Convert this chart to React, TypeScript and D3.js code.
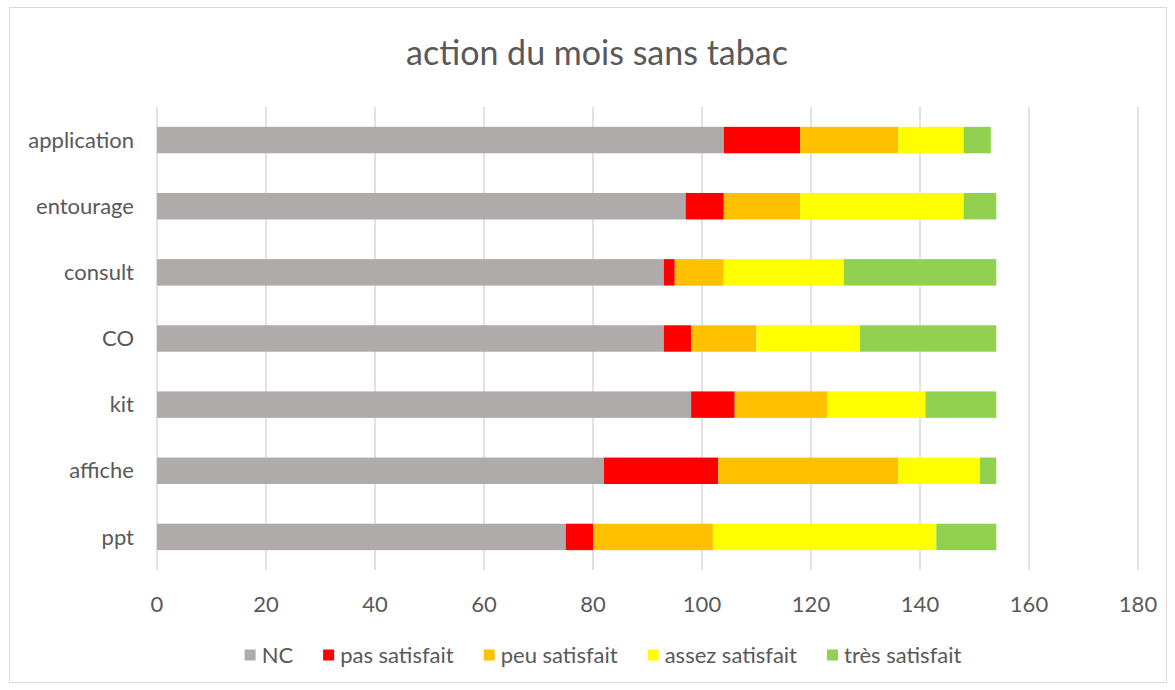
import React, { useRef, useEffect } from "react";
import * as d3 from "d3";

const categories = ["application", "entourage", "consult", "CO", "kit", "affiche", "ppt"];
const seriesNames = ["NC", "pas satisfait", "peu satisfait", "assez satisfait", "très satisfait"];
const seriesColors = ["#AFABAB", "#FF0000", "#FFC000", "#FFFF00", "#92D050"];

const ncValues = [104, 97, 93, 93, 98, 82, 75];
const pasValues = [14, 7, 2, 5, 8, 21, 5];
const peuValues = [18, 14, 9, 12, 17, 33, 22];
const assezValues = [12, 30, 22, 19, 18, 15, 41];
const tresValues = [5, 6, 28, 25, 13, 3, 11];

const xTicks = [0, 20, 40, 60, 80, 100, 120, 140, 160, 180];

const FONT = "Lato, 'Open Sans', sans-serif";
const TEXT = "#595959";

const App = () => {
  const chartRef = useRef<SVGSVGElement>(null);

  useEffect(() => {
    const width = 1175;
    const height = 690;
    const plot = { left: 157, right: 1138, top: 107, bottom: 570 };

    const svg = d3.select(chartRef.current);
    svg.selectAll("*").remove();

    // chart area background + border
    svg
      .append("rect")
      .attr("x", 9.5)
      .attr("y", 7.5)
      .attr("width", 1157)
      .attr("height", 675)
      .attr("fill", "#fff")
      .attr("stroke", "#d9d9d9")
      .attr("stroke-width", 1);

    const rows = categories.map((c, i) => ({
      cat: c,
      "NC": ncValues[i],
      "pas satisfait": pasValues[i],
      "peu satisfait": peuValues[i],
      "assez satisfait": assezValues[i],
      "très satisfait": tresValues[i],
    }));

    const x = d3.scaleLinear().domain([0, 180]).range([plot.left, plot.right]);
    const y = d3
      .scaleBand()
      .domain(categories)
      .range([plot.top, plot.bottom])
      .paddingInner(0.6)
      .paddingOuter(0.3);

    // gridlines
    svg
      .append("g")
      .selectAll("line")
      .data(xTicks)
      .enter()
      .append("line")
      .attr("x1", (d) => x(d))
      .attr("x2", (d) => x(d))
      .attr("y1", plot.top)
      .attr("y2", plot.bottom)
      .attr("stroke", "#d9d9d9")
      .attr("stroke-width", 1.5);

    // stacked bars
    const stack = d3.stack<any>().keys(seriesNames);
    const layers = stack(rows);

    svg
      .append("g")
      .selectAll("g")
      .data(layers)
      .enter()
      .append("g")
      .attr("fill", (_d, i) => seriesColors[i])
      .selectAll("rect")
      .data((d) => d)
      .enter()
      .append("rect")
      .attr("x", (d) => x(d[0]))
      .attr("width", (d) => x(d[1]) - x(d[0]))
      .attr("y", (d) => y(d.data.cat)!)
      .attr("height", y.bandwidth());

    // x tick labels
    svg
      .append("g")
      .selectAll("text")
      .data(xTicks)
      .enter()
      .append("text")
      .attr("x", (d) => x(d))
      .attr("y", 604)
      .attr("dy", "0.35em")
      .attr("text-anchor", "middle")
      .attr("font-family", FONT)
      .attr("font-size", 22)
      .attr("fill", TEXT)
      .text((d) => d);

    // category labels
    svg
      .append("g")
      .selectAll("text")
      .data(categories)
      .enter()
      .append("text")
      .attr("x", 134)
      .attr("y", (d) => y(d)! + y.bandwidth() / 2)
      .attr("dy", "0.35em")
      .attr("text-anchor", "end")
      .attr("font-family", FONT)
      .attr("font-size", 22)
      .attr("fill", TEXT)
      .text((d) => d);

    // title
    svg
      .append("text")
      .attr("x", 597)
      .attr("y", 53)
      .attr("dy", "0.35em")
      .attr("text-anchor", "middle")
      .attr("font-family", FONT)
      .attr("font-size", 34)
      .attr("fill", TEXT)
      .text("action du mois sans tabac");

    // legend, laid out by measured text widths then centred
    const legend = svg.append("g");
    const sw = 11;
    const gapText = 6;
    const gapItem = 30;
    let cursor = 0;
    seriesNames.forEach((name, i) => {
      const item = legend.append("g").attr("transform", `translate(${cursor},0)`);
      item
        .append("rect")
        .attr("x", 0)
        .attr("y", -sw / 2)
        .attr("width", sw)
        .attr("height", sw)
        .attr("fill", seriesColors[i]);
      const t = item
        .append("text")
        .attr("x", sw + gapText)
        .attr("y", 0)
        .attr("dy", "0.35em")
        .attr("font-family", FONT)
        .attr("font-size", 22)
        .attr("fill", TEXT)
        .text(name);
      const w = (t.node() as SVGTextElement).getComputedTextLength();
      cursor += sw + gapText + w + gapItem;
    });
    const total = cursor - gapItem;
    legend.attr("transform", `translate(${603 - total / 2},655)`);

    return () => {
      svg.selectAll("*").remove();
    };
  }, []);

  return (
    <svg
      ref={chartRef}
      width={1175}
      height={690}
      style={{ position: "absolute", left: 0, top: 0, background: "#fff" }}
    />
  );
};

export default App;
